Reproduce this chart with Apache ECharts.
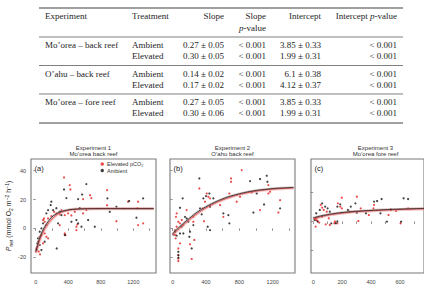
<!DOCTYPE html>
<html>
<head>
<meta charset="utf-8">
<script src="https://cdn.jsdelivr.net/npm/echarts@6/dist/echarts.min.js"></script>
<style>
  html, body { margin: 0; background: #fff; }
  #chart { width: 424px; height: 288px; }
</style>
</head>
<body>
<div id="chart"></div>
<script>
// table contents
const tableExperiments = ["Mo\u2019orea \u2013 back reef", "O\u2019ahu \u2013 back reef", "Mo\u2019orea \u2013 fore reef"];
const tableTreatments = ["Ambient", "Elevated"];
const tableSlope = ["0.27 \u00b1 0.05", "0.30 \u00b1 0.05", "0.14 \u00b1 0.02", "0.17 \u00b1 0.02", "0.27 \u00b1 0.05", "0.30 \u00b1 0.06"];
const tableSlopeP = ["< 0.001", "< 0.001", "< 0.001", "< 0.001", "< 0.001", "< 0.001"];
const tableIntercept = ["3.85 \u00b1 0.33", "1.99 \u00b1 0.31", "6.1 \u00b1 0.38", "4.12 \u00b1 0.37", "3.85 \u00b1 0.33", "1.99 \u00b1 0.31"];
const tableInterceptP = ["< 0.001", "< 0.001", "< 0.001", "< 0.001", "< 0.001", "< 0.001"];

// panel titles
const panelTitles = ["Experiment 1", "Experiment 2", "Experiment 3"];
const panelSites = ["Mo\u2019orea back reef", "O\u2019ahu back reef", "Mo\u2019orea fore reef"];
const panelTags = ["(a)", "(b)", "(c)"];

// panel (a) points: [light, Pnet]
const aElevated = [[348,35.3],[418,30],[426,27],[877,26.5],[582,20.3],[668,23],[684,21],[877,16],[1135,18.5],[1258,18.5],[1250,14],[1258,2.3],[1320,3.5],[992,5],[512,2.8],[500,1.2],[438,9],[622,12.7],[582,10.4],[480,11.5],[398,10.4],[357,9.2],[316,12.7],[295,9.7],[254,10.4],[225,11.5],[192,8.5],[152,6.9],[110,4.6],[102,6.9],[90,5.8],[131,2.3],[70,-4.6],[49,-5.8],[28,-9.2],[20,-12.7],[37,-16],[53,-18],[8,-13.9],[90,-10.4],[131,-5.8],[110,-3.5],[152,-6.9],[295,2.3],[357,-3.5],[365,-4.6],[500,-1.2]];
const aAmbient = [[348,27],[622,30.7],[377,21],[521,20.3],[570,23.5],[541,14],[726,1.2],[644,5.8],[881,20.8],[992,15],[1148,19],[1320,20.8],[1238,7.4],[910,11.5],[562,1.2],[521,3.5],[500,5.8],[439,4.6],[357,-4.6],[275,3.5],[295,11.5],[192,18.5],[184,16.2],[152,12.7],[131,10.4],[213,12.7],[254,14],[316,9.2],[90,3.5],[70,0],[49,-2.3],[28,-6.9],[20,-10.4],[12,-15],[49,-11.5],[70,-15],[258,-13.9],[110,-9.2]];
const aFitAmbient = [[0,-16],[25,-11],[50,-6.5],[100,0],[150,4.5],[200,8],[250,10],[300,11.5],[400,12.8],[500,13.4],[600,13.6],[800,13.7],[1000,13.7],[1450,13.7]];
const aFitElevated = [[0,-17],[25,-12.5],[50,-8],[100,-1.5],[150,3],[200,6.5],[250,9],[300,10.8],[400,12.6],[500,13.3],[600,13.6],[800,13.7],[1450,13.7]];

// panel (b)
const bElevated = [[828,40.4],[700,34.6],[700,32.3],[320,27.7],[408,24.2],[428,21.9],[448,20.8],[388,18.5],[360,13.9],[376,5],[248,8],[168,12.7],[48,10.4],[40,8],[68,4.6],[88,3.5],[108,5.8],[128,2.3],[48,1.2],[28,-1.2],[36,-6.9],[88,-10.4],[68,-13.9],[68,-18.5],[68,-20.8],[68,-22.6],[228,-21.2],[260,-8],[208,-11],[28,-4.6],[680,24.2],[808,21.9],[948,24.9],[1048,12.7],[1268,11],[1288,19.6],[1148,24.2],[1168,25.4],[608,8],[448,15.5],[568,16.2],[768,18.5],[248,4.6],[1148,30]];
const bAmbient = [[320,34.6],[120,20.8],[88,14.3],[148,8],[168,6.9],[188,4.6],[108,1.2],[88,-3.5],[128,-3.5],[208,-2.3],[200,-5.8],[228,-13.9],[68,-16.2],[68,-18.5],[68,-20.3],[420,1.2],[448,-1.2],[608,10.4],[668,9.2],[680,3.5],[928,32.8],[1048,34.2],[1128,36.5],[1136,32.3],[1008,24.2],[1096,16.6],[968,11],[1288,13.9],[368,20.8],[400,22.4],[440,24.2],[488,20.8],[328,13.9],[348,9.7],[448,15],[28,-2.3],[8,-4.2],[48,-5],[248,2.3]];
const bFitAmbient = [[0,-3.5],[100,2],[200,7],[300,11.5],[400,15],[500,18],[600,20.5],[700,22.5],[800,24],[900,25.3],[1000,26.3],[1100,27],[1200,27.6],[1300,28],[1450,28.4]];
const bFitElevated = [[0,-4.5],[100,1],[200,6],[300,10.5],[400,14.2],[500,17.3],[600,19.8],[700,21.8],[800,23.5],[900,24.8],[1000,25.8],[1100,26.6],[1200,27.2],[1300,27.6],[1450,28]];

// panel (c)
const cElevated = [[17,2.2],[21,1],[25,2.6],[17,-3.6],[42,-0.8],[52,11.5],[62,9.6],[73,8],[94,6.8],[108,2.2],[87,-2],[115,-2.4],[146,-1.3],[150,0],[167,-1.3],[171,12.6],[187,10.3],[198,16.5],[198,9.1],[250,6.8],[302,17.2],[329,9.1],[312,0.3],[385,4.5],[421,11.5],[521,4.5],[537,8],[573,7.3],[604,-1.3],[656,9.1],[417,9.1],[12,1.5],[30,0.5]];
const cAmbient = [[21,5.7],[46,8],[62,12.6],[83,10.3],[100,9.1],[115,6.8],[62,3.4],[167,10.3],[187,11.9],[240,8],[260,10.3],[292,12.6],[365,5.7],[421,13.8],[442,14.2],[473,15.6],[465,5.7],[510,-0.1],[537,8.4],[625,16.1],[656,15.6],[608,-0.1],[10,1],[31,-0.1],[125,-1.3],[167,0],[156,-1.2],[302,6.1]];
const cFitAmbient = [[0,2.5],[50,3.8],[100,4.8],[150,5.6],[200,6.2],[300,7.1],[400,7.7],[500,8.2],[600,8.6],[700,8.9],[780,9.1]];
const cFitElevated = [[0,1.8],[50,3.2],[100,4.3],[150,5.1],[200,5.8],[300,6.8],[400,7.4],[500,7.9],[600,8.3],[700,8.6],[780,8.8]];

// axis ticks
const abTicks = [0, 200, 400, 600, 800, 1000, 1200, 1400];
const abLabels = [0, 400, 800, 1200];
const cTicks = [0, 100, 200, 300, 400, 500, 600, 700];
const cLabels = [0, 200, 400, 600];
const yTicksAB = [-20, 0, 20, 40];
const yTicksC = [-20, 0, 20];

const SERIF = "'Liberation Serif', 'Times New Roman', serif";
const SANS = "'Liberation Sans', Arial, sans-serif";
const RED = "#e3201e";
const BLACK = "#151515";
const BOX = "#7a7a7a";

const chart = echarts.init(document.getElementById("chart"), null, { renderer: "svg" });

// ---- table as graphic elements ----
const tableGraphic = [];
const rule = (y, w) => ({
  type: "line", silent: true,
  shape: { x1: 39, y1: y, x2: 403, y2: y },
  style: { stroke: "#808080", lineWidth: w },
});
const cell = (text, x, y, align) => ({
  type: "text", silent: true,
  style: {
    text, x, y, textAlign: align, textVerticalAlign: "middle",
    fill: "#1e1e1e", fontSize: 9, fontFamily: SERIF,
    rich: { i: { fontStyle: "italic", fontSize: 9, fontFamily: SERIF, fill: "#1e1e1e" } },
  },
});
[8, 123].forEach((y) => tableGraphic.push(rule(y, 1.3)));
[37, 65.5, 94].forEach((y) => tableGraphic.push(rule(y, 1.1)));
tableGraphic.push(cell("Experiment", 45, 16, "left"));
tableGraphic.push(cell("Treatment", 132, 16, "left"));
tableGraphic.push(cell("Slope", 224, 16, "right"));
tableGraphic.push(cell("Slope", 266, 16, "right"));
tableGraphic.push(cell("{i|p}-value", 266, 27.5, "right"));
tableGraphic.push(cell("Intercept", 321, 16, "right"));
tableGraphic.push(cell("Intercept {i|p}-value", 397, 16, "right"));
tableExperiments.forEach((exp, g) => {
  const y0 = 45 + g * 28.5;
  tableGraphic.push(cell(exp, 45, y0, "left"));
  tableTreatments.forEach((tr, t) => {
    const y = y0 + t * 11.3;
    const k = g * 2 + t;
    tableGraphic.push(cell(tr, 132, y, "left"));
    tableGraphic.push(cell(tableSlope[k], 224, y, "right"));
    tableGraphic.push(cell(tableSlopeP[k], 266, y, "right"));
    tableGraphic.push(cell(tableIntercept[k], 321, y, "right"));
    tableGraphic.push(cell(tableInterceptP[k], 397, y, "right"));
  });
});

// ---- panel titles and tags ----
const gridLefts = [31, 170, 311];
const GRID_W = 125, GRID_TOP = 159, GRID_H = 114;
panelTitles.forEach((t, i) => {
  tableGraphic.push({
    type: "text", silent: true,
    style: {
      text: t + "\n" + panelSites[i], x: gridLefts[i] + GRID_W / 2 + (i === 2 ? 2 : 0), y: 144.5,
      textAlign: "center", fill: "#333", fontSize: 6, lineHeight: 6.3, fontFamily: SANS,
    },
  });
  tableGraphic.push({
    type: "text", silent: true,
    style: {
      text: panelTags[i], x: gridLefts[i] + 3.5, y: 168, textAlign: "left",
      textVerticalAlign: "middle", fill: "#222", fontSize: 7.5, fontFamily: SANS,
    },
  });
});

const panels = [
  { elev: aElevated, amb: aAmbient, fitA: aFitAmbient, fitE: aFitElevated,
    xmin: -58, xmax: 1478, ymin: -30.9, ymax: 48.1, xt: abTicks, xl: abLabels, yt: yTicksAB },
  { elev: bElevated, amb: bAmbient, fitA: bFitAmbient, fitE: bFitElevated,
    xmin: -32, xmax: 1467, ymin: -30.9, ymax: 48.1, xt: abTicks, xl: abLabels, yt: yTicksAB },
  { elev: cElevated, amb: cAmbient, fitA: cFitAmbient, fitE: cFitElevated,
    xmin: -15, xmax: 766, ymin: -35.8, ymax: 43.4, xt: cTicks, xl: cLabels, yt: yTicksC },
];

const plain = (v) => String(v);
const grid = [], xAxis = [], yAxis = [], series = [];
panels.forEach((p, i) => {
  grid.push({
    left: gridLefts[i], top: GRID_TOP, width: GRID_W, height: GRID_H,
    show: true, borderColor: BOX, borderWidth: 1.1, backgroundColor: "transparent",
  });
  xAxis.push({
    type: "value", gridIndex: i, min: p.xmin, max: p.xmax,
    axisLine: { show: false }, splitLine: { show: false },
    axisTick: { show: true, length: 2.5, customValues: p.xt, lineStyle: { color: BOX, width: 0.8 } },
    axisLabel: { show: true, customValues: p.xl, formatter: plain, margin: 6, fontSize: 5.5, color: "#444", fontFamily: SANS },
  });
  yAxis.push({
    type: "value", gridIndex: i, min: p.ymin, max: p.ymax,
    axisLine: { show: false }, splitLine: { show: false },
    axisTick: { show: true, length: 2.5, customValues: p.yt, lineStyle: { color: BOX, width: 0.8 } },
    axisLabel: { show: i === 0, customValues: p.yt, formatter: plain, margin: 5, fontSize: 5.5, color: "#444", fontFamily: SANS },
    name: i === 0 ? "{i|P}{sb|net} (mmol O{sb|2} m{sp|\u22122} h{sp|\u22121})" : "",
    nameLocation: "middle", nameRotate: 90, nameGap: 18,
    nameTextStyle: {
      fontSize: 7, color: "#222", fontFamily: SANS, lineHeight: 9,
      rich: {
        i: { fontStyle: "italic", fontSize: 7, lineHeight: 9, fontFamily: SANS, color: "#222" },
        sb: { fontSize: 5, lineHeight: 9, verticalAlign: "bottom", fontFamily: SANS, color: "#222" },
        sp: { fontSize: 5, lineHeight: 9, verticalAlign: "top", fontFamily: SANS, color: "#222" },
      },
    },
  });
  const common = { xAxisIndex: i, yAxisIndex: i, silent: true };
  series.push({ ...common, type: "scatter", name: "Elevated pCO\u2082", data: p.elev,
    symbolSize: 2.2, itemStyle: { color: RED }, z: 2 });
  series.push({ ...common, type: "scatter", name: "Ambient", data: p.amb,
    symbolSize: 2.2, itemStyle: { color: BLACK }, z: 2 });
  // confidence bands drawn as wide translucent strokes
  series.push({ ...common, type: "line", data: p.fitE, smooth: true, showSymbol: false,
    lineStyle: { color: "rgba(240,150,150,0.5)", width: 3.2 }, z: 3 });
  series.push({ ...common, type: "line", data: p.fitA, smooth: true, showSymbol: false,
    lineStyle: { color: "rgba(150,150,150,0.35)", width: 2.4 }, z: 3 });
  series.push({ ...common, type: "line", data: p.fitE, smooth: true, showSymbol: false,
    lineStyle: { color: "#d42a2a", width: 0.7 }, z: 4 });
  series.push({ ...common, type: "line", data: p.fitA, smooth: true, showSymbol: false,
    lineStyle: { color: "#111", width: 0.7 }, z: 4 });
});

chart.setOption({
  animation: false,
  backgroundColor: "#fff",
  grid, xAxis, yAxis, series,
  legend: {
    data: ["Elevated pCO\u2082", "Ambient"],
    orient: "vertical", left: 100.5, top: 161, padding: 0, itemGap: 0.5,
    icon: "circle", itemWidth: 3.5, itemHeight: 3.5,
    textStyle: { fontSize: 5.5, color: "#333", fontFamily: SANS, padding: [0, 0, 0, -2] },
    selectedMode: false,
  },
  graphic: tableGraphic,
});
</script>
</body>
</html>
